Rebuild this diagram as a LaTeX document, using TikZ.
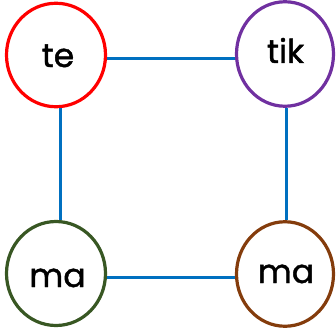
\documentclass[tikz,border=0pt]{standalone}
\usepackage{fontspec}
\setmainfont{Poppins}
\newfontfamily\wordfont{Poppins}[RawFeature={embolden=1.2}]
\usetikzlibrary{shapes.geometric}
\definecolor{cred}{HTML}{FF0000}
\definecolor{cpurple}{HTML}{7030A0}
\definecolor{cgreen}{HTML}{385723}
\definecolor{cbrown}{HTML}{843C0C}
\definecolor{cblue}{HTML}{0070C0}
\begin{document}
\begin{tikzpicture}[x=1pt,y=-1pt,
  ring/.style={draw=#1, line width=3.2pt, ellipse, inner sep=0pt, fill=white},
  word/.style={anchor=base, font=\wordfont\fontsize{33}{36}\selectfont, text=black, inner sep=0pt},
  link/.style={draw=cblue, line width=3pt}]
\useasboundingbox (0,0) rectangle (336,334);
\node[ring=cred, minimum width=99pt, minimum height=103.5pt] (c1) at (56,55) {};
\node[ring=cpurple, minimum width=97pt, minimum height=104.5pt] (c2) at (285,54) {};
\node[ring=cgreen, minimum width=99pt, minimum height=104pt] (c3) at (56,273.5) {};
\node[ring=cbrown, minimum width=97pt, minimum height=104.5pt] (c4) at (285,274) {};
\draw[link] ([yshift=-4pt]c1.east) -- ([yshift=-5pt]c2.west);
\draw[link] ([xshift=4pt]c1.south) -- ([xshift=4pt]c3.north);
\draw[link] ([xshift=1pt]c2.south) -- ([xshift=1pt]c4.north);
\draw[link] ([yshift=-3.5pt]c3.east) -- ([yshift=-3pt]c4.west);
\node[word] (t1) at (58,67) {te};
\node[word] (t2) at (285.5,63) {tik};
\node[word] (t3) at (57.5,287) {ma};
\node[word] (t4) at (286,283) {ma};
\end{tikzpicture}
\end{document}
